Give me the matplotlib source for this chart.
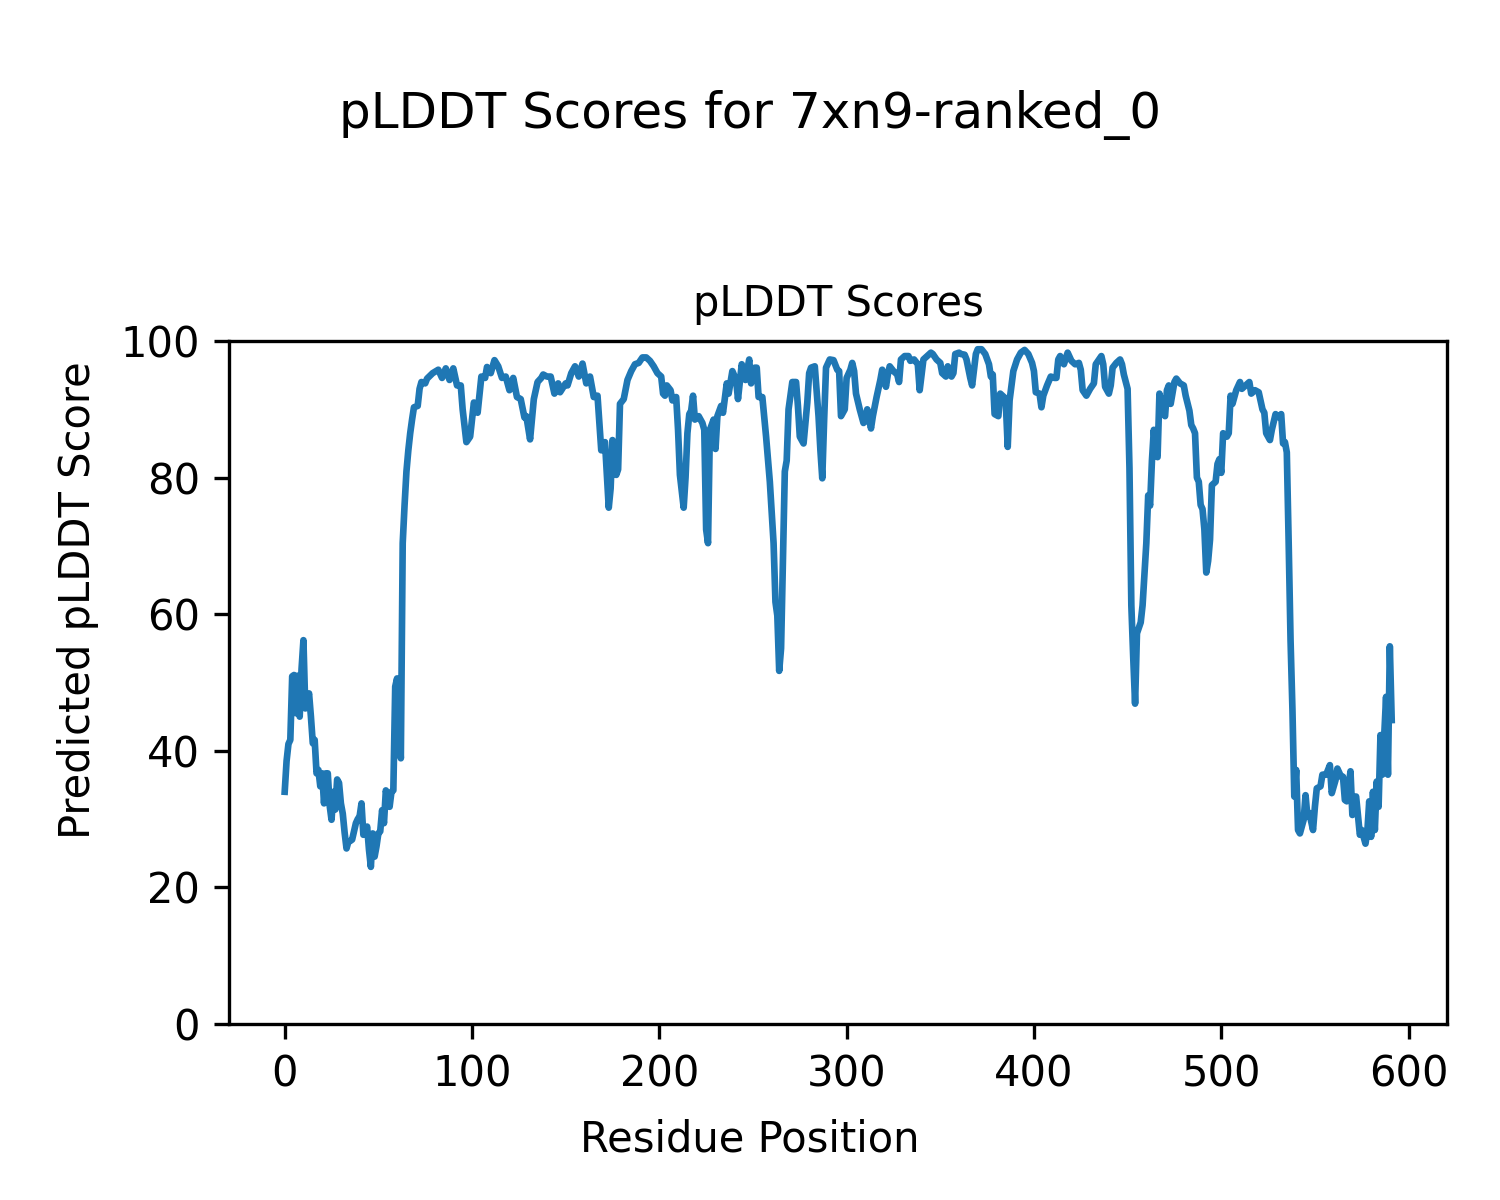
import matplotlib
matplotlib.use('Agg')
import matplotlib.pyplot as plt

# residue positions and pLDDT scores
residues = [
    0, 1, 2, 3, 4, 5, 6, 7, 8, 9, 10, 11, 12, 13, 14, 15, 16, 17, 18, 19,
    20, 21, 22, 23, 24, 25, 26, 27, 28, 29, 30, 31, 32, 33, 34, 35, 36, 37, 38, 39,
    40, 41, 42, 43, 44, 45, 46, 47, 48, 49, 50, 51, 52, 53, 54, 55, 56, 57, 58, 59,
    60, 61, 62, 63, 64, 65, 66, 67, 68, 69, 71, 72, 73, 75, 76, 79, 82, 84, 86, 88,
    90, 92, 94, 95, 97, 99, 101, 103, 105, 107, 108, 110, 112, 114, 116, 118, 120, 122, 124, 126,
    128, 129, 131, 133, 135, 137, 138, 140, 142, 144, 146, 147, 150, 151, 153, 155, 157, 159, 161, 163,
    165, 167, 169, 171, 173, 174, 175, 177, 178, 179, 181, 183, 185, 187, 189, 191, 193, 195, 197, 199,
    201, 202, 203, 204, 206, 207, 209, 210, 211, 212, 213, 214, 215, 216, 217, 218, 219, 221, 223, 224,
    225, 226, 227, 229, 230, 231, 233, 234, 236, 237, 239, 241, 242, 244, 246, 248, 249, 251, 252, 253,
    255, 257, 259, 261, 262, 263, 264, 265, 267, 268, 269, 271, 273, 274, 275, 277, 279, 280, 281, 283,
    285, 286, 287, 288, 289, 291, 293, 295, 296, 297, 299, 300, 302, 303, 304, 305, 307, 309, 310, 311,
    313, 314, 316, 318, 319, 321, 322, 323, 325, 327, 328, 329, 331, 333, 334, 336, 338, 339, 341, 343,
    345, 346, 348, 350, 351, 353, 354, 356, 357, 358, 360, 361, 363, 364, 366, 367, 369, 370, 372, 374,
    376, 377, 378, 379, 381, 382, 384, 385, 386, 387, 389, 391, 393, 395, 397, 399, 400, 401, 403, 404,
    405, 407, 409, 411, 412, 413, 414, 416, 418, 420, 422, 424, 425, 426, 428, 430, 432, 433, 436, 437,
    438, 440, 441, 442, 444, 446, 447, 448, 450, 451, 452, 453, 454, 455, 457, 458, 460, 461, 462, 463,
    464, 465, 466, 467, 469, 470, 471, 472, 473, 475, 476, 478, 480, 481, 483, 484, 485, 486, 487, 488,
    489, 490, 491, 492, 493, 494, 495, 497, 498, 499, 500, 501, 503, 504, 505, 506, 508, 510, 511, 513,
    515, 516, 518, 520, 522, 523, 524, 526, 527, 529, 531, 532, 533, 534, 535, 536, 537, 538, 539, 540,
    541, 542, 544, 545, 546, 547, 549, 550, 551, 553, 554, 556, 558, 559, 561, 562, 564, 565, 566, 567,
    569, 570, 571, 572, 574, 575, 577, 578, 579, 580, 581, 582, 583, 584, 585, 586, 588, 589, 590, 591,
]

plddt = [
    34.0, 38.5, 41.0, 41.6, 50.9, 51.1, 45.5, 51.0, 45.0, 52.0, 56.2, 46.2, 47.4, 48.4, 45.0, 41.1, 41.6, 36.7, 37.2, 34.8,
    36.7, 32.3, 36.7, 36.7, 32.0, 29.9, 34.0, 31.4, 35.8, 35.3, 32.3, 30.8, 28.0, 25.7, 26.7, 26.8, 27.0, 28.2, 29.4, 30.0,
    30.4, 32.3, 27.7, 28.0, 28.9, 25.5, 23.0, 27.9, 24.5, 26.0, 27.9, 28.2, 31.3, 29.4, 34.2, 33.0, 31.8, 34.0, 34.2, 49.4,
    50.6, 44.0, 38.9, 70.4, 76.0, 80.9, 84.0, 86.5, 88.5, 90.3, 90.5, 93.0, 94.0, 93.8, 94.5, 95.3, 95.8, 94.6, 96.0, 94.3,
    96.0, 93.5, 93.5, 90.0, 85.2, 86.0, 91.0, 89.5, 94.8, 94.6, 96.2, 95.3, 97.2, 96.3, 94.6, 94.8, 92.8, 94.6, 91.8, 91.5,
    88.8, 89.0, 85.6, 91.5, 94.0, 94.6, 95.1, 94.8, 94.8, 92.3, 93.8, 92.5, 93.8, 93.5, 95.3, 96.3, 94.8, 96.7, 93.8, 94.8,
    91.8, 92.0, 84.0, 85.2, 75.6, 78.4, 85.5, 80.4, 81.2, 90.8, 91.5, 94.3, 95.6, 96.6, 96.8, 97.6, 97.6, 97.1, 96.3, 95.3,
    94.8, 92.3, 92.0, 93.5, 92.8, 91.3, 91.8, 87.0, 80.4, 78.0, 75.6, 80.0, 86.5, 89.3, 89.8, 92.0, 88.5, 89.0, 88.0, 87.0,
    72.4, 70.4, 87.0, 88.5, 84.2, 89.0, 90.5, 89.5, 93.8, 92.3, 95.6, 94.3, 91.5, 96.6, 94.3, 97.3, 93.8, 96.1, 96.1, 91.8,
    91.8, 86.0, 79.4, 70.4, 61.8, 59.8, 51.7, 55.0, 80.9, 82.5, 90.0, 94.0, 94.0, 90.5, 86.0, 85.0, 91.0, 95.3, 96.1, 96.3,
    89.0, 84.0, 79.9, 88.5, 96.1, 97.3, 97.2, 95.8, 95.6, 89.0, 90.0, 94.6, 95.8, 96.8, 95.6, 92.3, 90.0, 88.0, 88.3, 90.0,
    87.2, 89.0, 91.8, 94.3, 95.8, 93.3, 95.1, 96.3, 95.6, 95.1, 94.0, 97.3, 97.8, 97.8, 97.1, 97.3, 96.6, 92.8, 97.3, 97.8,
    98.3, 98.1, 97.3, 96.8, 95.3, 94.8, 96.3, 94.8, 95.3, 98.1, 98.3, 98.1, 98.0, 97.3, 94.6, 93.5, 98.1, 98.8, 98.8, 98.1,
    96.6, 94.8, 95.1, 89.3, 89.0, 92.3, 91.8, 90.8, 84.5, 91.3, 95.6, 97.3, 98.3, 98.7, 98.1, 96.8, 95.6, 92.5, 92.3, 90.3,
    92.0, 93.5, 94.8, 94.6, 94.6, 97.3, 97.8, 96.6, 98.3, 97.1, 96.6, 96.8, 95.8, 92.8, 92.0, 93.0, 93.8, 96.6, 97.8, 96.6,
    93.3, 92.3, 93.5, 96.1, 96.8, 97.3, 96.6, 95.1, 93.0, 81.4, 61.3, 53.7, 46.9, 57.2, 58.8, 61.3, 70.4, 77.4, 75.9, 82.5,
    87.0, 83.5, 83.0, 92.3, 89.5, 89.0, 92.8, 93.5, 90.8, 94.0, 94.5, 93.8, 93.5, 92.0, 89.8, 87.7, 87.2, 86.5, 80.0, 79.4,
    76.0, 75.4, 72.4, 66.1, 67.8, 70.9, 78.9, 79.4, 82.0, 82.7, 80.7, 86.5, 86.0, 86.5, 92.0, 90.8, 92.8, 94.0, 93.0, 93.5,
    94.0, 92.3, 92.8, 92.5, 90.0, 89.5, 86.5, 85.5, 87.0, 89.3, 88.8, 89.3, 85.0, 85.2, 83.7, 70.4, 56.2, 46.1, 33.3, 37.2,
    28.4, 27.9, 29.9, 33.5, 30.4, 30.9, 28.4, 31.8, 34.5, 34.8, 36.5, 36.5, 37.9, 33.8, 35.7, 37.4, 36.2, 36.2, 32.8, 32.6,
    37.0, 30.6, 33.3, 33.3, 27.7, 28.4, 26.4, 28.2, 32.6, 27.4, 34.0, 28.4, 35.5, 31.8, 42.3, 36.5, 47.9, 36.5, 55.3, 44.5,
]

fig = plt.figure(figsize=(5, 4), dpi=300)
fig.suptitle('pLDDT Scores for 7xn9-ranked_0', fontsize=12, y=0.925)
fig.supxlabel('Residue Position', fontsize=10, y=0.04, va='baseline')
fig.supylabel('Predicted pLDDT Score', fontsize=10, x=0.052, ha='center')

ax = fig.add_axes([0.1529, 0.1467, 0.8118, 0.5691])
ax.plot(residues, plddt, color='#1f77b4', linewidth=1.6)
ax.set_ylim(0, 100)
ax.set_title('pLDDT Scores', fontsize=10)

fig.savefig('out.png', dpi=300)
